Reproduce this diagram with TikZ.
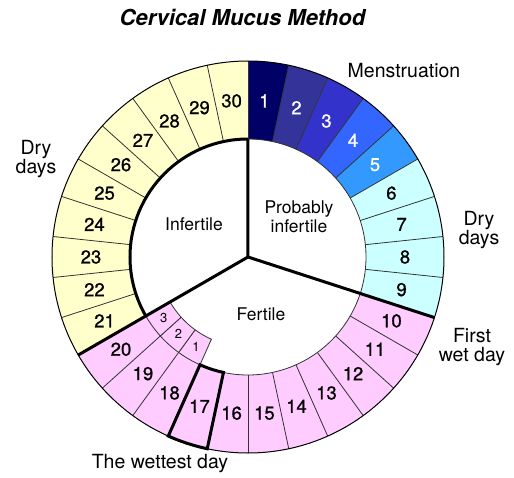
\documentclass[tikz,border=0pt]{standalone}
\usepackage{fontspec}
\setmainfont{TeX Gyre Heros}
\newfontfamily\numfont{TeX Gyre Heros}[FakeBold=0.9]
\definecolor{mensA}{HTML}{000066}
\definecolor{mensB}{HTML}{333399}
\definecolor{mensC}{HTML}{3333CC}
\definecolor{mensD}{HTML}{3366FF}
\definecolor{mensE}{HTML}{3399FF}
\definecolor{drycyan}{HTML}{CCFFFF}
\definecolor{wetpink}{HTML}{FFCCFF}
\definecolor{dryyellow}{HTML}{FFFFCC}
\begin{document}
\begin{tikzpicture}[x=1pt, y=1pt,
    sep/.style={draw=black!80, line width=0.8pt},
    bold line/.style={black, line width=3pt},
    daynum/.style={font=\fontsize{18.5}{20}\numfont, inner sep=0pt},
    smallnum/.style={font=\fontsize{13}{14}\selectfont, inner sep=0pt},
    sidelabel/.style={font=\fontsize{19.5}{19.5}\selectfont, align=center, inner sep=0pt},
    midlabel/.style={font=\fontsize{17.5}{19}\selectfont, align=center, inner sep=0pt}]
    \useasboundingbox (-248,-220) rectangle (266,257);

    % 绘制 30 天的圆环
    \foreach \n/\c/\t in {
        1/mensA/white, 2/mensB/white, 3/mensC/white, 4/mensD/white, 5/mensE/white,
        6/drycyan/black, 7/drycyan/black, 8/drycyan/black, 9/drycyan/black,
        10/wetpink/black, 11/wetpink/black, 12/wetpink/black, 13/wetpink/black,
        14/wetpink/black, 15/wetpink/black, 16/wetpink/black, 17/wetpink/black,
        18/wetpink/black, 19/wetpink/black, 20/wetpink/black,
        21/dryyellow/black, 22/dryyellow/black, 23/dryyellow/black, 24/dryyellow/black,
        25/dryyellow/black, 26/dryyellow/black, 27/dryyellow/black, 28/dryyellow/black,
        29/dryyellow/black, 30/dryyellow/black%
    } {
        \pgfmathsetmacro{\s}{90-12*(\n-1)}
        \pgfmathsetmacro{\e}{90-12*\n}
        \pgfmathsetmacro{\m}{90-12*\n+6}
        \fill[\c] (\s:196) arc[start angle=\s, end angle=\e, radius=196]
            -- (\e:118) arc[start angle=\e, end angle=\s, radius=118] -- cycle;
        \draw[sep] (\s:118) -- (\s:196);
        \node[daynum, text=\t] (day\n) at (\m:157) {\n};
    }

    % 最湿润日之后的小格
    \foreach \k/\n in {1/18, 2/19, 3/20} {
        \pgfmathsetmacro{\s}{90-12*(\n-1)}
        \pgfmathsetmacro{\e}{90-12*\n}
        \pgfmathsetmacro{\m}{90-12*\n+6}
        \path[sep, fill=wetpink] (\s:118) arc[start angle=\s, end angle=\e, radius=118]
            -- (\e:90) arc[start angle=\e, end angle=\s, radius=90] -- cycle;
        \node[smallnum] (after\k) at (\m:104) {\k};
    }

    % 外圆和内圆
    \draw[black, line width=1pt] (0,0) circle (196);
    \draw[sep] (90:118) arc[start angle=90, end angle=-114, radius=118];

    % 三个扇区的粗分界线
    \draw[bold line] (90:118) -- (0,0) -- (-18:196);
    \draw[bold line] (0,0) -- (-150:196);
    \draw[bold line] (90:118) arc[start angle=90, end angle=210, radius=118];
    \draw[bold line, line join=miter] (-102:118) arc[start angle=-102, end angle=-114, radius=118]
        -- (-114:196) arc[start angle=-114, end angle=-102, radius=196] -- cycle;

    % 标题和说明文字
    \node[font=\fontsize{22}{24}\selectfont\bfseries\itshape] (title) at (-5.5,240) {Cervical Mucus Method};
    \node[sidelabel] (mens) at (156,186) {Menstruation};
    \node[sidelabel] (dryleft) at (-212,98) {Dry\\days};
    \node[sidelabel] (dryright) at (231,27) {Dry\\days};
    \node[sidelabel] (firstwet) at (224,-90) {First\\wet day};
    \node[sidelabel] (wettest) at (-88,-207) {The wettest day};
    \node[midlabel] (infertile) at (-54,33) {Infertile};
    \node[midlabel] (probably) at (51,40) {Probably\\infertile};
    \node[midlabel] (fertile) at (13,-57) {Fertile};
\end{tikzpicture}
\end{document}
